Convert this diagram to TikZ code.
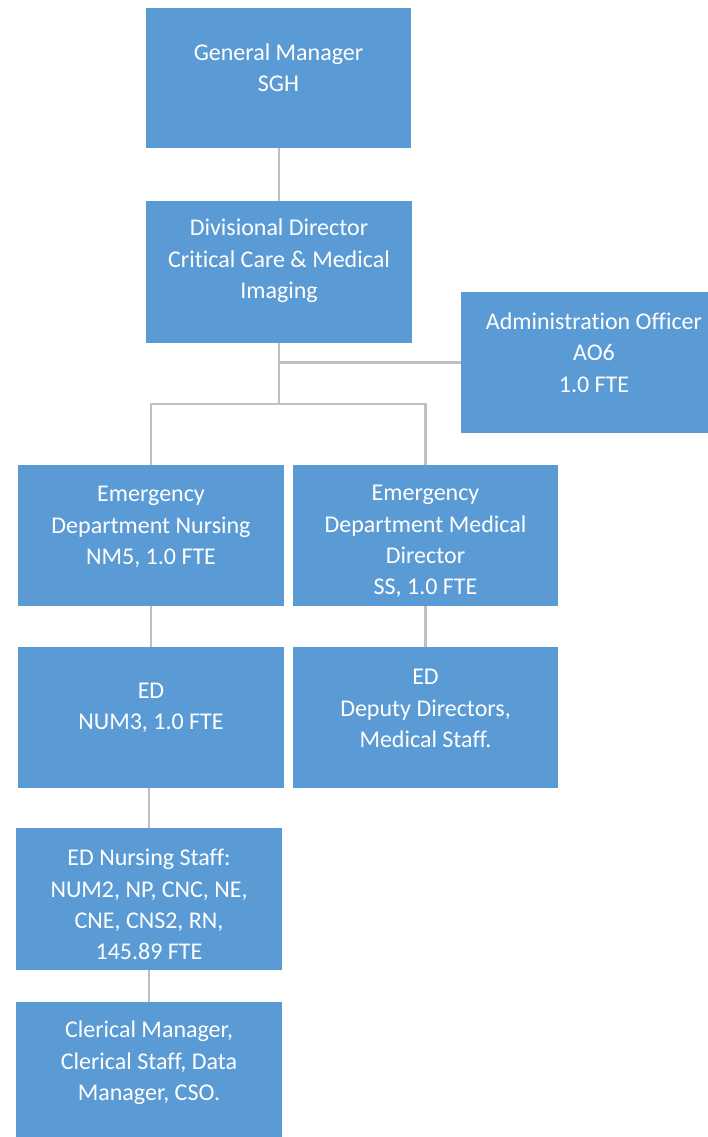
\documentclass[tikz,border=0pt]{standalone}
\usepackage{fontspec}
\setmainfont{Carlito}[Ligatures=NoCommon]
\begin{document}
\begin{tikzpicture}[x=1pt,y=-1pt,
  orgbox/.style={fill=boxblue, draw=none, inner sep=0pt, minimum width=#1},
  orgbox/.default=266pt,
  orgtext/.style={text=white, align=center, inner sep=0pt,
    font=\fontsize{24}{31.3}\selectfont},
  link/.style={draw=linkgrey, line width=2.8pt}]
\definecolor{boxblue}{HTML}{5B9BD5}
\definecolor{linkgrey}{HTML}{BFBFBF}
\useasboundingbox (0,0) rectangle (708,1137);

% boxes
\node[orgbox=265pt, minimum height=140pt] (gm)    at (278.5,78)   {};
\node[orgbox=266pt, minimum height=142pt] (div)   at (279,272)    {};
\node[orgbox=266pt, minimum height=141pt] (adm)   at (594,362.5)  {};
\node[orgbox=266pt, minimum height=141pt] (nm)    at (151,535.5)  {};
\node[orgbox=265pt, minimum height=141pt] (md)    at (425.5,535.5){};
\node[orgbox=266pt, minimum height=141pt] (num)   at (151,717.5)  {};
\node[orgbox=265pt, minimum height=141pt] (dep)   at (425.5,717.5){};
\node[orgbox=266pt, minimum height=142pt] (staff) at (149,899)    {};
\node[orgbox=266pt, minimum height=140pt] (cler)  at (149,1072)   {};

% labels
\node[orgtext] (gmt)    at (278.5,67.5)  {General Manager\\SGH};
\node[orgtext] (divt)   at (279,261)   {Divisional Director\\Critical Care \& Medical\\Imaging};
\node[orgtext] (admt)   at (594,352.5)   {Administration Officer\\AO6\\1.0 FTE};
\node[orgtext] (nmt)    at (151,527)   {Emergency\\Department Nursing\\NM5, 1.0 FTE};
\node[orgtext] (mdt)    at (425.5,541.5) {Emergency\\Department Medical\\Director\\SS, 1.0 FTE};
\node[orgtext] (numt)   at (151,708)   {ED\\NUM3, 1.0 FTE};
\node[orgtext] (dept)   at (425.5,708.5) {ED\\Deputy Directors,\\Medical Staff.};
\node[orgtext] (stafft) at (149,904.5)   {ED Nursing Staff:\\NUM2, NP, CNC, NE,\\CNE, CNS2, RN,\\145.89 FTE};
\node[orgtext] (clert)  at (149,1063){Clerical Manager,\\Clerical Staff, Data\\Manager, CSO.};

% connectors
\coordinate (bar) at (279,404);
\draw[link] (div.north |- gm.south) -- (div.north);
\draw[link] (div.south) |- (adm.west);
\draw[link] (div.south) -- (bar);
\draw[link] (nm.north) |- (bar) -| (md.north);
\draw[link] (nm.south) -- (num.north);
\draw[link] (md.south) -- (dep.north);
\draw[link] (staff.north |- num.south) -- (staff.north);
\draw[link] (staff.south) -- (cler.north);
\end{tikzpicture}
\end{document}
